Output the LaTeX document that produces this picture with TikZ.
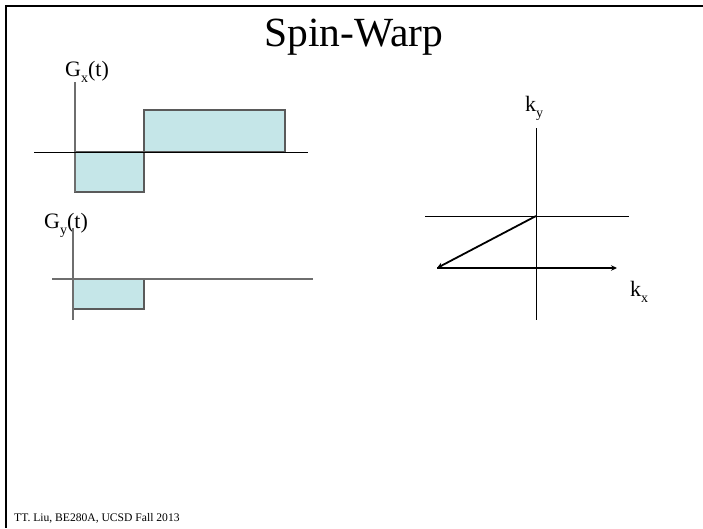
\documentclass[tikz,border=0pt]{standalone}
\usepackage{fontspec}
\setmainfont{Liberation Serif}
\usetikzlibrary{arrows.meta}
\definecolor{boxfill}{RGB}{197,230,232}
\definecolor{boxline}{RGB}{90,90,90}
\definecolor{axisgray}{RGB}{110,110,110}
\newcommand\lowsub[1]{\raisebox{-0.3em}{\fontsize{14}{14}\selectfont #1}}
\begin{document}
\begin{tikzpicture}[x=1pt,y=-1pt,
  pulse/.style={draw=boxline,fill=boxfill,line width=1.2pt},
  axisk/.style={draw=black,line width=0.8pt},
  axisg/.style={draw=axisgray,line width=1.2pt},
  traj/.style={draw=black,line width=1.8pt,-{Stealth[length=6pt,width=5.5pt]}},
  lbl/.style={inner sep=0pt,font=\fontsize{22}{24}\selectfont},
]
\useasboundingbox (0,0) rectangle (703,528);
% frame
\coordinate (ftl) at (5.5,5.5);
\coordinate (ftr) at (703,5.5);
\coordinate (fbl) at (5.5,528);
\draw[line width=2pt] (ftr) -- (ftl) -- (fbl);
% title
\node[inner sep=0pt,anchor=base,font=\fontsize{41.5}{44}\selectfont] (title) at (354,46) {Spin-Warp};
% Gx
\node[lbl,anchor=base west] (gxl) at (65,76) {G\lowsub{x}(t)};
\coordinate (gxa1) at (34,152);
\coordinate (gxa2) at (308,152);
\coordinate (gxv1) at (75,82);
\coordinate (gxv2) at (75,192);
\draw[pulse] (75,152) rectangle (144,192) node[midway,inner sep=0pt] (gxneg) {};
\draw[pulse] (144,110) rectangle (285,152) node[midway,inner sep=0pt] (gxpos) {};
\draw[axisg] (gxv1) -- (gxv2);
\draw[axisk] (gxa1) -- (gxa2);
% Gy
\node[lbl,anchor=base west] (gyl) at (44,228) {G\lowsub{y}(t)};
\coordinate (gya1) at (52,279);
\coordinate (gya2) at (313,279);
\coordinate (gyv1) at (73,228);
\coordinate (gyv2) at (73,320);
\draw[pulse] (73,279) rectangle (144,309) node[midway,inner sep=0pt] (gypulse) {};
\draw[axisg] (gyv1) -- (gyv2);
\draw[axisg] (gya1) -- (gya2);
% k-space
\node[lbl,anchor=base west] (kyl) at (525,111) {k\lowsub{y}};
\node[lbl,anchor=base west] (kxl) at (630,296) {k\lowsub{x}};
\coordinate (kv1) at (536,128);
\coordinate (kv2) at (536,320);
\coordinate (kh1) at (425,216);
\coordinate (kh2) at (629,216);
\draw[axisk] (kv1) -- (kv2);
\draw[axisk] (kh1) -- (kh2);
\coordinate (k0) at (536,216);
\coordinate (k1) at (437,268);
\coordinate (k2) at (617,268);
\draw[traj] (k0) -- (k1);
\draw[traj] (k1) -- (k2);
% footer
\node[inner sep=0pt,anchor=base west,font=\fontsize{11.6}{13}\selectfont] (foot) at (14,521) {TT. Liu, BE280A, UCSD Fall 2013};
\end{tikzpicture}
\end{document}
